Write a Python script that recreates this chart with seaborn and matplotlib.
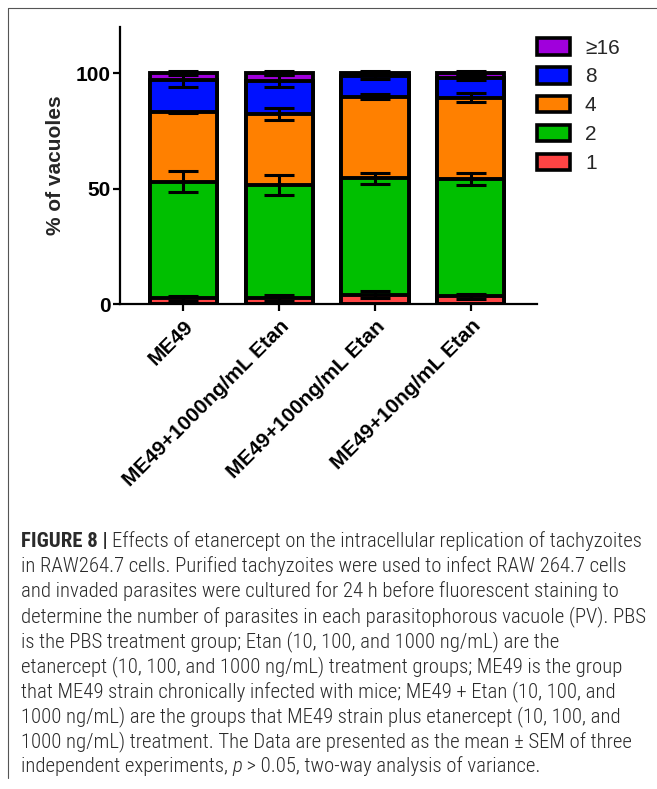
import matplotlib
matplotlib.use("Agg")
import matplotlib.pyplot as plt
from matplotlib.patches import Patch
from matplotlib.lines import Line2D
from matplotlib import font_manager
import numpy as np
import pandas as pd
import seaborn as sns

# ---- data: % of vacuoles containing 1, 2, 4, 8, >=16 parasites (mean and SEM) ----
categories = ["ME49", "ME49+1000ng/mL Etan", "ME49+100ng/mL Etan", "ME49+10ng/mL Etan"]
segment_labels = ["1", "2", "4", "8", "≥16"]
pv_1 = [2.5, 2.5, 4.0, 3.3]
pv_2 = [50.5, 49.0, 50.4, 50.7]
pv_4 = [30.0, 30.6, 35.4, 35.4]
pv_8 = [14.0, 14.5, 9.0, 8.7]
pv_16 = [3.0, 3.4, 1.2, 1.9]
sem_1 = [1.0, 1.2, 1.5, 1.2]
sem_2 = [4.5, 4.2, 2.5, 2.6]
sem_4 = [0.3, 2.6, 1.2, 2.0]
sem_8 = [3.0, 2.8, 1.3, 1.2]
sem_16 = [0.8, 1.0, 1.0, 0.8]
y_ticks = [0, 50, 100]

segment_colors = ["#FF4444", "#00BF00", "#FF8000", "#0011FF", "#A000DC"]

caption_lines = [
    "Effects of etanercept on the intracellular replication of tachyzoites",
    "in RAW264.7 cells. Purified tachyzoites were used to infect RAW 264.7 cells",
    "and invaded parasites were cultured for 24 h before fluorescent staining to",
    "determine the number of parasites in each parasitophorous vacuole (PV). PBS",
    "is the PBS treatment group; Etan (10, 100, and 1000 ng/mL) are the",
    "etanercept (10, 100, and 1000 ng/mL) treatment groups; ME49 is the group",
    "that ME49 strain chronically infected with mice; ME49 + Etan (10, 100, and",
    "1000 ng/mL) are the groups that ME49 strain plus etanercept (10, 100, and",
    "1000 ng/mL) treatment. The Data are presented as the mean ± SEM of three",
    "independent experiments, ",
]
caption_tail = " > 0.05, two-way analysis of variance."

sns.set_theme(style="ticks")
plt.rcParams["font.family"] = ["Liberation Sans", "DejaVu Sans"]

W, H = 657, 789
fig = plt.figure(figsize=(W / 100, H / 100), dpi=100)
ax = fig.add_axes([120 / W, 1 - 304 / H, (537 - 120) / W, (304 - 27) / H])

values = np.array([pv_1, pv_2, pv_4, pv_8, pv_16])
sems = np.array([sem_1, sem_2, sem_4, sem_8, sem_16])
tops = values.cumsum(axis=0)

# stacked bars: tallest cumulative total first, shorter stacks drawn over it
for i in range(len(segment_labels) - 1, -1, -1):
    df = pd.DataFrame({"group": categories, "top": tops[i]})
    sns.barplot(data=df, x="group", y="top", color=segment_colors[i],
                saturation=1, width=0.7, edgecolor="black", linewidth=2.8,
                errorbar=None, ax=ax, zorder=2)

xpos = np.arange(len(categories))
for i in range(len(segment_labels)):
    ax.errorbar(xpos, tops[i], yerr=sems[i], fmt="none", ecolor="black",
                elinewidth=2.2, capsize=10.5, capthick=2.2, zorder=5)

ax.set_xlim(-0.66, 3.69)
ax.set_ylim(0, 120)
ax.set_yticks(y_ticks)
ax.set_xticks(xpos)
ax.set_xticklabels(categories, rotation=45, ha="right", rotation_mode="anchor",
                   fontsize=15, fontweight="bold")
for lbl in ax.get_yticklabels():
    lbl.set_fontweight("bold")
    lbl.set_fontsize(15)
ax.set_xlabel("")
ax.set_ylabel("% of vacuoles", fontsize=15, fontweight="bold")
ax.yaxis.set_label_coords(-0.132, 0.5)
sns.despine(ax=ax)
for side in ("left", "bottom"):
    ax.spines[side].set_linewidth(1.6)
    ax.spines[side].set_color("black")
ax.tick_params(axis="both", length=5, width=1.6, color="black",
               labelcolor="black", pad=2)
ax.tick_params(axis="x", pad=4)
ax.set_facecolor("white")

# legend, top category first
handles = [Patch(facecolor=c, edgecolor="black", linewidth=2.6, label=l)
           for l, c in zip(segment_labels[::-1], segment_colors[::-1])]
fig.legend(handles=handles, loc="upper left", bbox_to_anchor=(537 / W, 1 - 38 / H),
           frameon=False, fontsize=15, handlelength=1.6, handleheight=0.85,
           handletextpad=0.7, labelspacing=0.45, borderpad=0, borderaxespad=0)

# frame lines around the figure panel
fig.add_artist(Line2D([8 / W, 1], [1 - 8 / H, 1 - 8 / H], transform=fig.transFigure,
                      color="#555555", lw=0.8))
fig.add_artist(Line2D([8 / W, 8 / W], [1 - 8 / H, 1 - 778 / H], transform=fig.transFigure,
                      color="#555555", lw=0.8))

# ---- caption ----
names = {f.name for f in font_manager.fontManager.ttflist}
cap_family = "Liberation Sans"
for cand in ["Roboto Condensed", "Liberation Sans Narrow", "Open Sans Condensed"]:
    if cand in names:
        cap_family = cand
        break

renderer = fig.canvas.get_renderer()


def run_width(s, **props):
    t1 = fig.text(0, 0, s + "x", **props)
    t2 = fig.text(0, 0, "x", **props)
    w = t1.get_window_extent(renderer).width - t2.get_window_extent(renderer).width
    t1.remove()
    t2.remove()
    return w


cap_color = "#2a2a2a"
cap_weight = "light"
base = 10.0
w_test = run_width(caption_lines[3], family=cap_family, fontsize=base, fontweight=cap_weight)
cap_size = base * 626.0 / w_test

x0 = 21
line_gap = 25.0
first_base = 547.0


def put(xpx, ypx, s, **props):
    props.setdefault("fontweight", cap_weight)
    fig.text(xpx / W, 1 - ypx / H, s, va="baseline", ha="left", color=cap_color,
             family=cap_family, fontsize=cap_size, **props)


for k, line in enumerate(caption_lines):
    yb = first_base + k * line_gap
    if k == 0:
        head = "FIGURE 8 | "
        put(x0, yb, head, fontweight="bold")
        put(x0 + run_width(head, family=cap_family, fontsize=cap_size, fontweight="bold"),
            yb, line)
    elif k == len(caption_lines) - 1:
        put(x0, yb, line)
        xp = x0 + run_width(line, family=cap_family, fontsize=cap_size, fontweight=cap_weight)
        put(xp, yb, "p", style="italic")
        xp += run_width("p", family=cap_family, fontsize=cap_size, style="italic",
                        fontweight=cap_weight)
        put(xp, yb, caption_tail)
    else:
        put(x0, yb, line)

fig.savefig("out.png", dpi=100, facecolor="white")
